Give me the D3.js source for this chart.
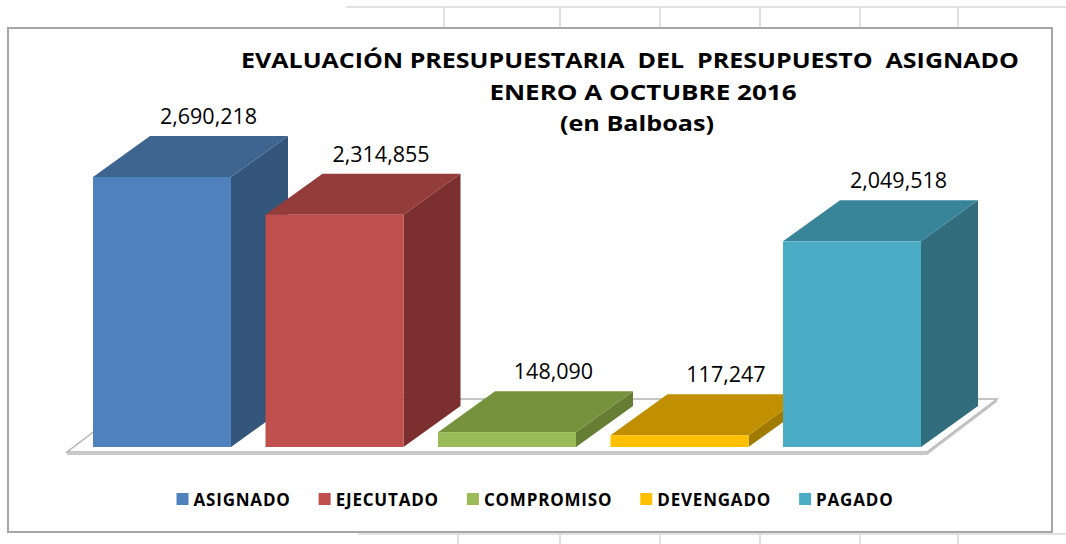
<!DOCTYPE html>
<html>
<head>
<meta charset="utf-8">
<script src="https://cdn.jsdelivr.net/npm/d3@7"></script>
<style>
  body { margin: 0; background: #fff; }
  svg { display: block; font-family: "Open Sans", sans-serif; }
</style>
</head>
<body>
<div id="chart"></div>
<script>
// data
var categories = ['ASIGNADO', 'EJECUTADO', 'COMPROMISO', 'DEVENGADO', 'PAGADO'];
var values = [2690218, 2314855, 148090, 117247, 2049518];
var titleLines = ['EVALUACIÓN PRESUPUESTARIA  DEL  PRESUPUESTO  ASIGNADO', 'ENERO A OCTUBRE 2016', '(en Balboas)'];

var frontColors = ['#4f81bd', '#c0504d', '#9bbb59', '#ffc000', '#4bacc6'];
var topColors = ['#3d6590', '#943c3a', '#76923c', '#c09000', '#38859a'];
var sideColors = ['#34567b', '#7b2f2e', '#657e34', '#a17a00', '#316d7c'];

var W = 1066, H = 544;
var dx = 57, dy = 41; // bar depth
var baseY = 447;

var svg = d3.select('#chart').append('svg')
  .attr('width', W)
  .attr('height', H);

// spreadsheet grid behind the chart
var grid = svg.append('g').attr('stroke', '#d9d9d9').attr('stroke-width', 1.5);
grid.append('line').attr('x1', 346).attr('x2', W).attr('y1', 7).attr('y2', 7);
[444, 560, 660, 760, 860, 958].forEach(function (gx) {
  grid.append('line').attr('x1', gx).attr('x2', gx).attr('y1', 7).attr('y2', 28);
});
grid.append('line').attr('x1', 358).attr('x2', W).attr('y1', 534).attr('y2', 534);
[458, 560, 660, 760, 860, 958].forEach(function (gx) {
  grid.append('line').attr('x1', gx).attr('x2', gx).attr('y1', 534).attr('y2', H);
});

// chart frame
svg.append('rect')
  .attr('x', 8).attr('y', 28)
  .attr('width', 1044).attr('height', 504)
  .attr('fill', '#fff')
  .attr('stroke', '#a6a6a6')
  .attr('stroke-width', 2);

// title (glyphs stretched a bit wider, like the original)
var title = svg.append('g').attr('font-weight', 'bold').attr('fill', '#000').attr('text-anchor', 'middle');
title.selectAll('text')
  .data(titleLines)
  .enter().append('text')
  .attr('transform', function (d, i) {
    return 'translate(' + [630, 643, 637][i] + ',' + (68 + i * 31.5) + ') scale(' + [1.19, 1.24, 1.2][i] + ',1)';
  })
  .attr('font-size', 21)
  .style('white-space', 'pre')
  .text(function (d) { return d; });

// scales
var x = d3.scaleBand()
  .domain(categories)
  .range([93, 921])
  .paddingInner(0.2)
  .paddingOuter(0);

var y = d3.scaleLinear()
  .domain([0, 2690218])
  .range([baseY, 177]);

// floor
var floor = svg.append('g');
floor.append('polygon')
  .attr('points', [[67, 452], [927, 452], [997, 399], [137, 399]].join(' '))
  .attr('fill', '#fff')
  .attr('stroke', '#b3b3b3')
  .attr('stroke-width', 1.5);
floor.append('rect')
  .attr('x', 67).attr('y', 452)
  .attr('width', 860).attr('height', 3)
  .attr('fill', '#c8c8c8');
floor.append('polygon')
  .attr('points', [[927, 452], [997, 399], [997, 402], [927, 455]].join(' '))
  .attr('fill', '#c4c4c4');

// bars
var bars = svg.selectAll('.bar')
  .data(categories)
  .enter().append('g')
  .attr('class', 'bar');

bars.append('polygon')
  .attr('fill', function (d, i) { return sideColors[i]; })
  .attr('points', function (d, i) {
    var x1 = x(d) + x.bandwidth(), yt = y(values[i]);
    return [[x1, yt], [x1 + dx, yt - dy], [x1 + dx, baseY - dy], [x1, baseY]].join(' ');
  });

bars.append('polygon')
  .attr('fill', function (d, i) { return topColors[i]; })
  .attr('points', function (d, i) {
    var x0 = x(d), x1 = x0 + x.bandwidth(), yt = y(values[i]);
    return [[x0, yt], [x1, yt], [x1 + dx, yt - dy], [x0 + dx, yt - dy]].join(' ');
  });

bars.append('rect')
  .attr('fill', function (d, i) { return frontColors[i]; })
  .attr('x', function (d) { return x(d); })
  .attr('y', function (d, i) { return y(values[i]); })
  .attr('width', x.bandwidth())
  .attr('height', function (d, i) { return baseY - y(values[i]); });

// value labels
var fmt = d3.format(',');
svg.selectAll('.label')
  .data(categories)
  .enter().append('text')
  .attr('class', 'label')
  .attr('x', function (d) { return x(d) + x.bandwidth() / 2 + dx / 2 + 18; })
  .attr('y', function (d, i) { return y(values[i]) - dy - 12; })
  .attr('text-anchor', 'middle')
  .attr('font-size', 21.5)
  .attr('fill', '#000')
  .text(function (d, i) { return fmt(values[i]); });

// legend
var legend = svg.append('g');
var items = legend.selectAll('g')
  .data(categories)
  .enter().append('g');
items.append('rect')
  .attr('width', 12).attr('height', 12)
  .attr('y', 493)
  .attr('fill', function (d, i) { return frontColors[i]; });
items.append('text')
  .attr('x', 17)
  .attr('y', 505.5)
  .attr('font-size', 17)
  .attr('font-weight', 'bold')
  .attr('letter-spacing', 0.8)
  .attr('fill', '#000')
  .text(function (d) { return d; });

var pos = 0, offsets = [];
items.each(function () {
  offsets.push(pos);
  pos += 17 + this.querySelector('text').getComputedTextLength() + 28;
});
var total = pos - 28, start = 535 - total / 2;
items.attr('transform', function (d, i) { return 'translate(' + (start + offsets[i]) + ',0)'; });
</script>
</body>
</html>
